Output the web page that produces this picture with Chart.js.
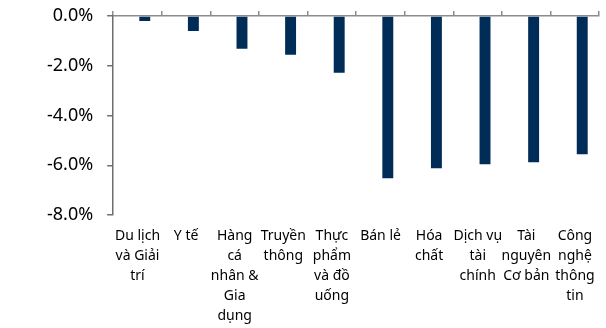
<!DOCTYPE html>
<html>
<head>
<meta charset="utf-8">
<script src="https://cdn.jsdelivr.net/npm/chart.js@4/dist/chart.umd.min.js"></script>
<style>
  html, body { margin: 0; padding: 0; background: #fff; }
  #wrap { width: 606px; height: 328px; position: relative; }
</style>
</head>
<body>
<div id="wrap"><canvas id="c"></canvas></div>
<script>
// Sector returns, wrapped the way the original axis breaks them
const CATEGORIES = [
    ['Du lịch', 'và Giải', 'trí'],
    ['Y tế'],
    ['Hàng', 'cá', 'nhân &', 'Gia', 'dụng'],
    ['Truyền', 'thông'],
    ['Thực', 'phẩm', 'và đồ', 'uống'],
    ['Bán lẻ'],
    ['Hóa', 'chất'],
    ['Dịch vụ', 'tài', 'chính'],
    ['Tài', 'nguyên', 'Cơ bản'],
    ['Công', 'nghệ', 'thông', 'tin']
];
const RETURNS = [-0.2, -0.6, -1.32, -1.56, -2.28, -6.52, -6.12, -5.96, -5.88, -5.56];
const Y_TICKS = [0, -2, -4, -6, -8];

const NAVY = '#002d57';
const AXIS = '#8c8c8c';
const FONT = '"Noto Sans", "Open Sans", sans-serif';

new Chart(document.getElementById('c'), {
    type: 'bar',
    data: {
        labels: CATEGORIES,
        datasets: [
            // empty first slot so the bar sits right of the category centre
            { label: 'spacer', data: [], backgroundColor: 'rgba(0,0,0,0)' },
            { label: 'Return', data: RETURNS, backgroundColor: NAVY, borderWidth: 0 }
        ]
    },
    options: {
        responsive: true,
        maintainAspectRatio: false,
        animation: false,
        layout: { padding: { top: 11, right: 5, left: 33, bottom: 0 } },
        datasets: { bar: { categoryPercentage: 0.6, barPercentage: 0.75 } },
        plugins: { legend: { display: false }, tooltip: { enabled: false } },
        scales: {
            x: {
                position: 'bottom',
                border: { display: false },
                grid: { display: false, drawTicks: false },
                afterFit: (s) => { s.height = 113; },
                ticks: {
                    autoSkip: false, maxRotation: 0, minRotation: 0, padding: 11,
                    color: '#000', font: { family: FONT, size: 14, lineHeight: 20 / 14 }
                }
            },
            x2: {
                type: 'category',
                position: 'top',
                offset: true,
                afterFit: (s) => { s.height = 5; },
                border: { display: true, color: AXIS, width: 1.5 },
                grid: { offset: true, drawOnChartArea: false, tickLength: 5, color: AXIS, lineWidth: 1.5 },
                ticks: { display: false }
            },
            y: {
                min: Y_TICKS[Y_TICKS.length - 1],
                max: Y_TICKS[0],
                border: { display: true, color: '#6e6e6e', width: 1.5 },
                grid: { drawOnChartArea: false, tickLength: 6, color: '#6e6e6e', lineWidth: 1.5 },
                afterBuildTicks: (s) => { s.ticks = Y_TICKS.map(v => ({ value: v })); },
                // labels may hang over the plot edges, as in the original
                afterFit: (s) => { s.paddingTop = 0; s.paddingBottom = 0; },
                ticks: {
                    padding: 14, color: '#000',
                    font: { family: FONT, size: 18 },
                    callback: (v) => v.toFixed(1) + '%'
                }
            }
        }
    }
});
</script>
</body>
</html>
